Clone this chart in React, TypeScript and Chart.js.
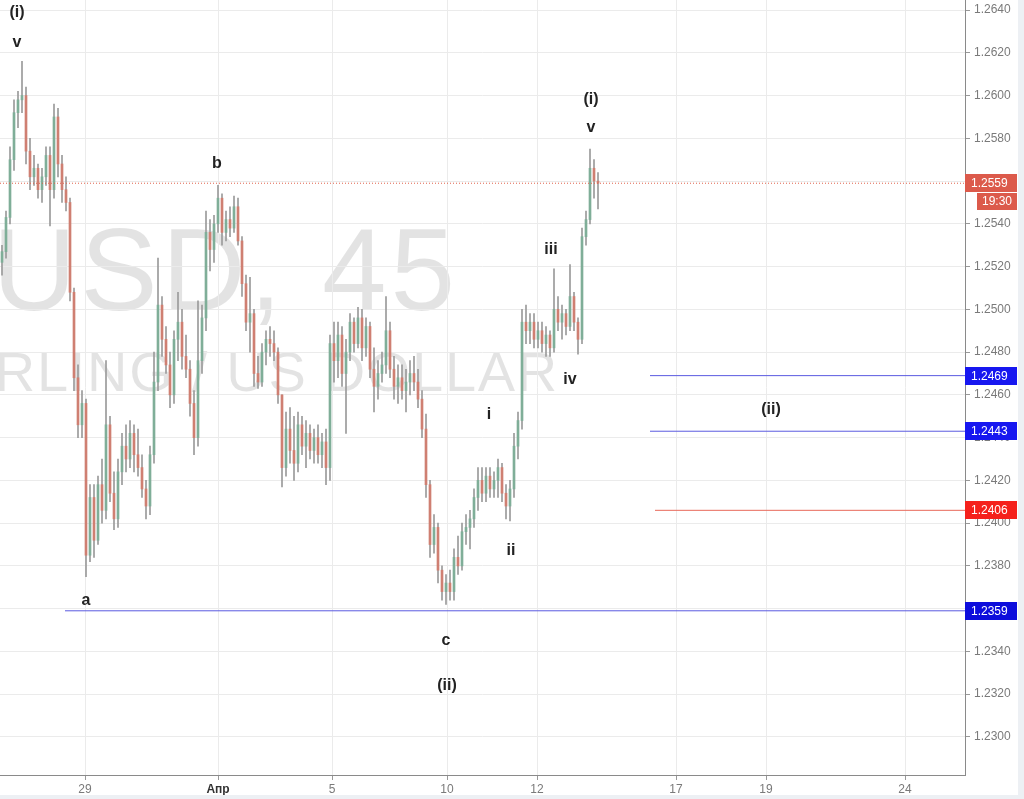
import React, { useEffect, useRef } from 'react';
import { Chart, registerables } from 'chart.js';
Chart.register(...registerables);

// ---- OHLC data (45-minute candles) ----
const opens = [
1.2522,1.2527,1.2543,1.2570,1.2592,1.2598,1.2600,1.2574,1.2562,1.2566,
1.2556,1.2562,1.2572,1.2556,1.2590,1.2568,1.2556,1.2550,1.2508,1.2468,
1.2446,1.2456,1.2385,1.2412,1.2392,1.2418,1.2406,1.2446,1.2414,1.2402,
1.2424,1.2436,1.2430,1.2442,1.2432,1.2426,1.2416,1.2408,1.2432,1.2466,
1.2502,1.2486,1.2474,1.2460,1.2486,1.2494,1.2478,1.2472,1.2456,1.2440,
1.2476,1.2496,1.2536,1.2528,1.2540,1.2552,1.2536,1.2542,1.2538,1.2548,
1.2532,1.2512,1.2494,1.2498,1.2470,1.2466,1.2480,1.2486,1.2484,1.2480,
1.2460,1.2426,1.2444,1.2434,1.2428,1.2446,1.2436,1.2442,1.2434,1.2440,
1.2432,1.2438,1.2426,1.2484,1.2476,1.2488,1.2470,1.2480,1.2494,1.2484,
1.2496,1.2482,1.2492,1.2472,1.2464,1.2470,1.2474,1.2490,1.2472,1.2464,
1.2468,1.2462,1.2466,1.2470,1.2466,1.2458,1.2444,1.2418,1.2390,1.2398,
1.2378,1.2368,1.2372,1.2368,1.2384,1.2380,1.2396,1.2398,1.2402,1.2412,
1.2420,1.2414,1.2422,1.2416,1.2420,1.2426,1.2414,1.2408,1.2416,1.2436,
1.2448,1.2494,1.2490,1.2494,1.2486,1.2490,1.2484,1.2488,1.2482,1.2500,
1.2494,1.2498,1.2492,1.2506,1.2494,1.2486,1.2534,1.2542,1.2566,1.2560];
const highs = [
1.2530,1.2546,1.2576,1.2598,1.2602,1.2616,1.2604,1.2580,1.2572,1.2568,
1.2566,1.2576,1.2576,1.2596,1.2594,1.2572,1.2562,1.2552,1.2510,1.2474,
1.2462,1.2458,1.2418,1.2418,1.2422,1.2430,1.2476,1.2450,1.2424,1.2430,
1.2442,1.2446,1.2448,1.2446,1.2444,1.2432,1.2420,1.2436,1.2480,1.2524,
1.2506,1.2492,1.2480,1.2490,1.2508,1.2500,1.2488,1.2476,1.2462,1.2504,
1.2502,1.2546,1.2542,1.2544,1.2558,1.2554,1.2546,1.2548,1.2553,1.2552,
1.2534,1.2516,1.2515,1.2500,1.2478,1.2484,1.2490,1.2492,1.2490,1.2482,
1.2460,1.2452,1.2454,1.2450,1.2452,1.2450,1.2448,1.2446,1.2444,1.2446,
1.2442,1.2444,1.2488,1.2494,1.2494,1.2492,1.2486,1.2498,1.2496,1.2501,
1.2500,1.2496,1.2494,1.2482,1.2476,1.2480,1.2506,1.2494,1.2478,1.2474,
1.2474,1.2472,1.2476,1.2478,1.2472,1.2462,1.2451,1.2420,1.2404,1.2400,
1.2380,1.2376,1.2378,1.2388,1.2394,1.2400,1.2404,1.2406,1.2416,1.2426,
1.2426,1.2426,1.2426,1.2424,1.2430,1.2428,1.2418,1.2420,1.2442,1.2452,
1.2500,1.2502,1.2498,1.2498,1.2494,1.2494,1.2492,1.2490,1.2519,1.2506,
1.2502,1.2500,1.2521,1.2508,1.2496,1.2538,1.2546,1.2575,1.2570,1.2564];
const lows = [
1.2516,1.2524,1.2540,1.2565,1.2585,1.2592,1.2568,1.2556,1.2558,1.2552,
1.2550,1.2558,1.2539,1.2552,1.2562,1.2550,1.2546,1.2504,1.2462,1.2440,
1.2440,1.2375,1.2382,1.2384,1.2390,1.2400,1.2402,1.2410,1.2397,1.2398,
1.2418,1.2424,1.2426,1.2424,1.2422,1.2412,1.2402,1.2404,1.2428,1.2462,
1.2478,1.2470,1.2454,1.2456,1.2476,1.2472,1.2468,1.2450,1.2432,1.2436,
1.2470,1.2490,1.2518,1.2522,1.2536,1.2530,1.2532,1.2534,1.2536,1.2530,
1.2506,1.2490,1.2480,1.2464,1.2463,1.2464,1.2474,1.2478,1.2476,1.2456,
1.2417,1.2422,1.2428,1.2420,1.2424,1.2432,1.2426,1.2430,1.2428,1.2428,
1.2426,1.2418,1.2420,1.2466,1.2468,1.2464,1.2442,1.2476,1.2480,1.2482,
1.2476,1.2478,1.2468,1.2452,1.2458,1.2466,1.2470,1.2468,1.2458,1.2456,
1.2458,1.2452,1.2460,1.2462,1.2454,1.2440,1.2412,1.2384,1.2386,1.2372,
1.2364,1.2362,1.2364,1.2364,1.2376,1.2378,1.2390,1.2388,1.2398,1.2406,
1.2410,1.2410,1.2412,1.2412,1.2412,1.2410,1.2402,1.2401,1.2412,1.2430,
1.2444,1.2484,1.2484,1.2482,1.2482,1.2480,1.2478,1.2478,1.2480,1.2490,
1.2486,1.2488,1.2490,1.2490,1.2479,1.2484,1.2530,1.2540,1.2552,1.2547];
const closes = [
1.2527,1.2543,1.2570,1.2592,1.2598,1.2600,1.2574,1.2562,1.2566,1.2556,
1.2562,1.2572,1.2556,1.2590,1.2568,1.2556,1.2550,1.2508,1.2468,1.2446,
1.2456,1.2385,1.2412,1.2392,1.2418,1.2406,1.2446,1.2414,1.2402,1.2424,
1.2436,1.2430,1.2442,1.2432,1.2426,1.2416,1.2408,1.2432,1.2466,1.2502,
1.2486,1.2474,1.2460,1.2486,1.2494,1.2478,1.2472,1.2456,1.2440,1.2476,
1.2496,1.2536,1.2528,1.2540,1.2552,1.2536,1.2542,1.2538,1.2548,1.2532,
1.2512,1.2494,1.2498,1.2470,1.2466,1.2480,1.2486,1.2484,1.2480,1.2460,
1.2426,1.2444,1.2434,1.2428,1.2446,1.2436,1.2442,1.2434,1.2440,1.2432,
1.2438,1.2426,1.2484,1.2476,1.2488,1.2470,1.2480,1.2494,1.2484,1.2496,
1.2482,1.2492,1.2472,1.2464,1.2470,1.2474,1.2490,1.2472,1.2464,1.2468,
1.2462,1.2466,1.2470,1.2466,1.2458,1.2444,1.2418,1.2390,1.2398,1.2378,
1.2368,1.2372,1.2368,1.2384,1.2380,1.2396,1.2398,1.2402,1.2412,1.2420,
1.2414,1.2422,1.2416,1.2420,1.2426,1.2414,1.2408,1.2416,1.2436,1.2448,
1.2494,1.2490,1.2494,1.2486,1.2490,1.2484,1.2488,1.2482,1.2500,1.2494,
1.2498,1.2492,1.2506,1.2494,1.2486,1.2534,1.2542,1.2566,1.2560,1.2559];

// ---- axes ----
const xMin = -0.5;
const xMax = 240.75;
const yMin = 1.22822;
const yMax = 1.26447;
const dateTickPositions = [20.75, 54, 82.5, 111.25, 133.75, 168.5, 191, 225.75];
const dateTickLabels = ['29', 'Апр', '5', '10', '12', '17', '19', '24'];
const priceTicks = [1.2300, 1.2320, 1.2340, 1.2360, 1.2380, 1.2400, 1.2420, 1.2440, 1.2460, 1.2480, 1.2500, 1.2520, 1.2540, 1.2560, 1.2580, 1.2600, 1.2620, 1.2640];

// ---- horizontal levels ----
const levelValues = [1.2469, 1.2443, 1.2406, 1.2359];
const levelStarts = [162, 162, 163.25, 15.75];
const levelKinds = ['blue', 'blue', 'red', 'blue'];
const lastPrice = 1.2559;
const lastTime = '19:30';

// ---- wave labels ----
const waveTexts = ['(i)', 'v', 'b', '(i)', 'v', 'iii', 'iv', 'i', 'ii', '(ii)', 'a', 'c', '(ii)'];
const waveX = [3.75, 3.75, 53.75, 147.25, 147.25, 137.25, 142, 121.75, 127.25, 192.25, 21, 111, 111.25];
const waveY = [1.2639, 1.2625, 1.2568, 1.2598, 1.2585, 1.2528, 1.2467, 1.2451, 1.2387, 1.2453, 1.2364, 1.2345, 1.2324];

const FONT = "'Liberation Sans', Arial, sans-serif";
const UP = '#7fae98';
const DOWN = '#cf7f72';
const WICK = '#9a9a9a';

export default function App() {
  const ref = useRef<HTMLCanvasElement>(null);
  useEffect(() => {
    const canvas = ref.current;
    if (!canvas) return;
    const idx = opens.map((_, i) => i);
    const wickData = idx.map((i) => ({ x: i, y: [lows[i], highs[i]] }));
    const bodyData = idx.map((i) => ({ x: i, y: [opens[i], closes[i]] }));
    const bodyColors = idx.map((i) => (closes[i] >= opens[i] ? UP : DOWN));

    const levelDatasets = levelValues.map((v, k) => ({
      type: 'line' as const,
      data: [{ x: levelStarts[k], y: v }, { x: xMax, y: v }],
      borderColor: levelKinds[k] === 'red' ? '#e8695a' : '#5a5ae0',
      borderWidth: 1,
      pointRadius: 0,
      order: 1,
    }));

    const bgPlugin = {
      id: 'watermark',
      beforeDraw(chart: any) {
        const ctx = chart.ctx;
        ctx.save();
        ctx.fillStyle = 'rgba(0,0,0,0.11)';
        ctx.textAlign = 'right';
        ctx.textBaseline = 'alphabetic';
        ctx.font = `116px ${FONT}`;
        (ctx as any).letterSpacing = '4px';
        ctx.fillText('GBPUSD, 45', 459, 310);
        ctx.font = `56px ${FONT}`;
        (ctx as any).letterSpacing = '1.7px';
        ctx.fillText('POUND STERLING / US DOLLAR', 559, 391);
        ctx.restore();
      },
    };

    const overlayPlugin = {
      id: 'overlay',
      afterDatasetsDraw(chart: any) {
        const ctx = chart.ctx;
        const xs = chart.scales.x;
        const ys = chart.scales.y;
        ctx.save();
        ctx.fillStyle = '#222';
        ctx.font = `bold 16px ${FONT}`;
        ctx.textAlign = 'center';
        ctx.textBaseline = 'middle';
        waveTexts.forEach((t, k) => {
          ctx.fillText(t, xs.getPixelForValue(waveX[k]), ys.getPixelForValue(waveY[k]));
        });
        ctx.restore();
      },
      afterDraw(chart: any) {
        const ctx = chart.ctx;
        const ys = chart.scales.y;
        const left = chart.chartArea.right;
        ctx.save();
        ctx.fillStyle = '#edf0f4';
        ctx.fillRect(1018, 0, 6, 799);
        ctx.fillRect(0, 795, 1024, 4);
        ctx.font = `12px ${FONT}`;
        ctx.textBaseline = 'middle';
        ctx.textAlign = 'left';
        const box = (val: number, color: string) => {
          const py = Math.round(ys.getPixelForValue(val));
          ctx.fillStyle = color;
          ctx.fillRect(left, py - 9, 52, 18);
          ctx.fillStyle = '#fff';
          ctx.fillText(val.toFixed(4), left + 6, py + 1);
          return py;
        };
        const py = box(lastPrice, '#dc5a4b');
        ctx.fillStyle = '#dc5a4b';
        ctx.fillRect(left + 12, py + 10, 40, 17);
        ctx.fillStyle = '#fff';
        ctx.fillText(lastTime, left + 17, py + 19);
        levelValues.forEach((v, k) => {
          box(v, levelKinds[k] === 'red' ? '#f5211c' : (k === 3 ? '#0d0ddc' : '#1717f0'));
        });
        ctx.restore();
      },
    };

    const chart = new Chart(canvas, {
      type: 'bar',
      data: {
        datasets: [
          {
            type: 'bar',
            data: wickData as any,
            backgroundColor: WICK,
            barThickness: 1,
            grouped: false,
            order: 3,
          } as any,
          {
            type: 'bar',
            data: bodyData as any,
            backgroundColor: bodyColors,
            barThickness: 2,
            grouped: false,
            minBarLength: 1,
            order: 2,
          } as any,
          ...levelDatasets,
          {
            type: 'line',
            data: [{ x: xMin, y: lastPrice }, { x: xMax, y: lastPrice }],
            borderColor: '#e0604a',
            borderWidth: 1,
            borderDash: [1, 2],
            pointRadius: 0,
            order: 1,
          } as any,
        ],
      },
      options: {
        animation: false,
        responsive: false,
        maintainAspectRatio: false,
        events: [],
        layout: { padding: 0 },
        plugins: { legend: { display: false }, tooltip: { enabled: false } },
        scales: {
          x: {
            type: 'linear',
            min: xMin,
            max: xMax,
            offset: false,
            afterBuildTicks: (s: any) => {
              s.ticks = dateTickPositions.map((v) => ({ value: v }));
            },
            afterFit: (s: any) => {
              s.height = 24;
              s.paddingLeft = 0;
              s.paddingRight = 0;
            },
            ticks: {
              autoSkip: false,
              maxRotation: 0,
              padding: 2,
              color: (c: any) => (c.index === 1 ? '#333' : '#7a7a7a'),
              font: (c: any) => ({ family: FONT, size: 12, weight: c.index === 1 ? 'bold' : 'normal' }),
              callback: (_v: any, i: number) => dateTickLabels[i],
            },
            grid: { color: '#ebebeb', offset: false, tickLength: 5, tickColor: '#999' },
            border: { color: '#8a8a8a' },
          },
          y: {
            type: 'linear',
            position: 'right',
            min: yMin,
            max: yMax,
            afterBuildTicks: (s: any) => {
              s.ticks = priceTicks.map((v) => ({ value: v }));
            },
            afterFit: (s: any) => {
              s.width = 59;
              s.paddingTop = 0;
              s.paddingBottom = 0;
            },
            ticks: {
              padding: 4,
              color: '#7a7a7a',
              font: { family: FONT, size: 12 },
              callback: (v: any) => Number(v).toFixed(4),
            },
            grid: { color: '#ebebeb', tickLength: 5, tickColor: '#999' },
            border: { color: '#8a8a8a' },
          },
        },
      } as any,
      plugins: [bgPlugin, overlayPlugin],
    });
    return () => chart.destroy();
  }, []);

  return (
    <div style={{ position: 'absolute', left: 0, top: 0, width: 1024, height: 799, background: '#fff' }}>
      <canvas ref={ref} width={1024} height={799} style={{ display: 'block', width: 1024, height: 799 }} />
    </div>
  );
}
